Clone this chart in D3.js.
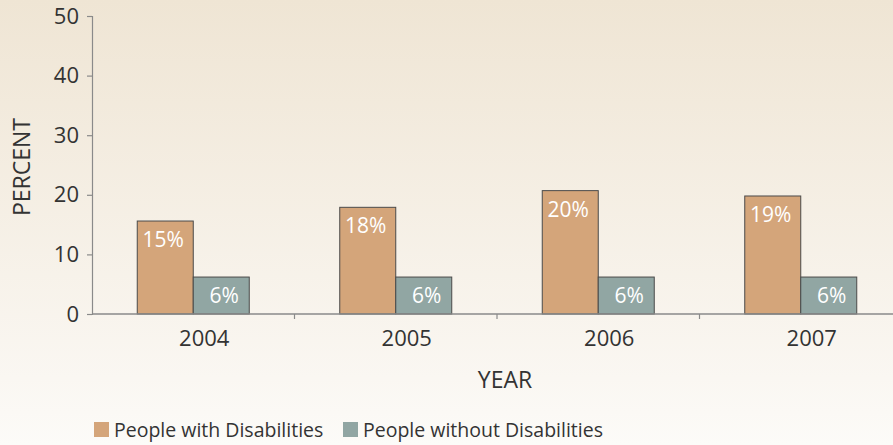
<!DOCTYPE html>
<html>
<head>
<meta charset="utf-8">
<script src="https://cdn.jsdelivr.net/npm/d3@7"></script>
<style>
  body { margin: 0; }
  svg { display: block; font-family: "Open Sans", sans-serif; }
</style>
</head>
<body>
<svg id="chart" width="893" height="445"></svg>
<script>
// chart data
const years = ["2004", "2005", "2006", "2007"];
const series = ["People with Disabilities", "People without Disabilities"];
const withDis = [15.6, 17.9, 20.7, 19.8];
const withoutDis = [6.2, 6.2, 6.2, 6.2];
const withLabels = ["15%", "18%", "20%", "19%"];
const withoutLabels = ["6%", "6%", "6%", "6%"];
const yTicks = [0, 10, 20, 30, 40, 50];

const colors = ["#d4a57a", "#91a6a3"];

const svg = d3.select("#chart");
const W = 893, H = 445;

// background
const defs = svg.append("defs");
const grad = defs.append("linearGradient")
    .attr("id", "bg").attr("x1", 0).attr("y1", 0).attr("x2", 0).attr("y2", 1);
grad.append("stop").attr("offset", "0%").attr("stop-color", "#efe5d4");
grad.append("stop").attr("offset", "85%").attr("stop-color", "#faf7f2");
grad.append("stop").attr("offset", "100%").attr("stop-color", "#fcfbf8");
svg.append("rect").attr("width", W).attr("height", H).attr("fill", "url(#bg)");

const plotLeft = 92, plotTop = 16, plotBottom = 314;
const bandW = 202.5;

const x = d3.scaleBand()
    .domain(years)
    .range([plotLeft, plotLeft + bandW * years.length])
    .paddingInner(0).paddingOuter(0);
const sub = d3.scaleBand()
    .domain([0, 1])
    .range([bandW / 2 - 56, bandW / 2 + 56]);
const y = d3.scaleLinear().domain([0, 50]).range([plotBottom, plotTop]);

// y axis
const yAxis = svg.append("g")
    .attr("transform", `translate(${plotLeft},0)`)
    .call(d3.axisLeft(y).tickValues(yTicks).tickSize(5).tickPadding(8));
yAxis.select(".domain").attr("stroke", "#8a8a8a").attr("stroke-width", 1.2);
yAxis.selectAll(".tick line").attr("stroke", "#8a8a8a").attr("stroke-width", 1.2);
yAxis.selectAll(".tick text")
    .attr("font-size", 22).attr("fill", "#333")
    .attr("font-family", "Open Sans, sans-serif");

// bars
const groups = svg.append("g").selectAll("g")
    .data(years)
    .join("g")
    .attr("transform", d => `translate(${x(d)},0)`);

const barData = (d, i) => [
    { k: 0, v: withDis[i], label: withLabels[i] },
    { k: 1, v: withoutDis[i], label: withoutLabels[i] }
];

groups.selectAll("rect")
    .data(barData)
    .join("rect")
    .attr("x", d => sub(d.k))
    .attr("y", d => y(d.v))
    .attr("width", sub.bandwidth())
    .attr("height", d => y(0) - y(d.v))
    .attr("fill", d => colors[d.k])
    .attr("stroke", "#4a4a4a")
    .attr("stroke-width", 1);

groups.selectAll("text.val")
    .data(barData)
    .join("text")
    .attr("class", "val")
    .attr("x", d => sub(d.k) + sub.bandwidth() / 2 + (d.k === 1 ? 3 : -2))
    .attr("y", d => y(d.v) + 26)
    .attr("text-anchor", "middle")
    .attr("font-size", 21)
    .attr("fill", "#fff")
    .text(d => d.label);

// x axis
const xAxisG = svg.append("g").attr("transform", `translate(0,${plotBottom})`);
xAxisG.append("line")
    .attr("x1", plotLeft).attr("x2", W)
    .attr("stroke", "#8a8a8a").attr("stroke-width", 1.5);
xAxisG.selectAll("line.tk")
    .data(years.slice(1))
    .join("line")
    .attr("class", "tk")
    .attr("x1", d => x(d)).attr("x2", d => x(d))
    .attr("y1", 0).attr("y2", 5)
    .attr("stroke", "#8a8a8a").attr("stroke-width", 1.2);
xAxisG.selectAll("text")
    .data(years)
    .join("text")
    .attr("x", d => x(d) + x.bandwidth() / 2 + 11)
    .attr("y", 32)
    .attr("text-anchor", "middle")
    .attr("font-size", 22)
    .attr("fill", "#333")
    .text(d => d);

// axis titles
svg.append("text")
    .attr("x", 505).attr("y", 388)
    .attr("text-anchor", "middle")
    .attr("font-size", 23).attr("fill", "#333")
    .text("YEAR");
svg.append("text")
    .attr("transform", "translate(30,167) rotate(-90)")
    .attr("text-anchor", "middle")
    .attr("font-size", 23).attr("fill", "#333")
    .text("PERCENT");

// legend
const legendX = [94, 343];
const legend = svg.append("g").selectAll("g")
    .data(series)
    .join("g")
    .attr("transform", (d, i) => `translate(${legendX[i]},422)`);
legend.append("rect")
    .attr("width", 15).attr("height", 15)
    .attr("fill", (d, i) => colors[i]);
legend.append("text")
    .attr("x", 20).attr("y", 15)
    .attr("font-size", 19.5).attr("fill", "#333")
    .text(d => d);
</script>
</body>
</html>
